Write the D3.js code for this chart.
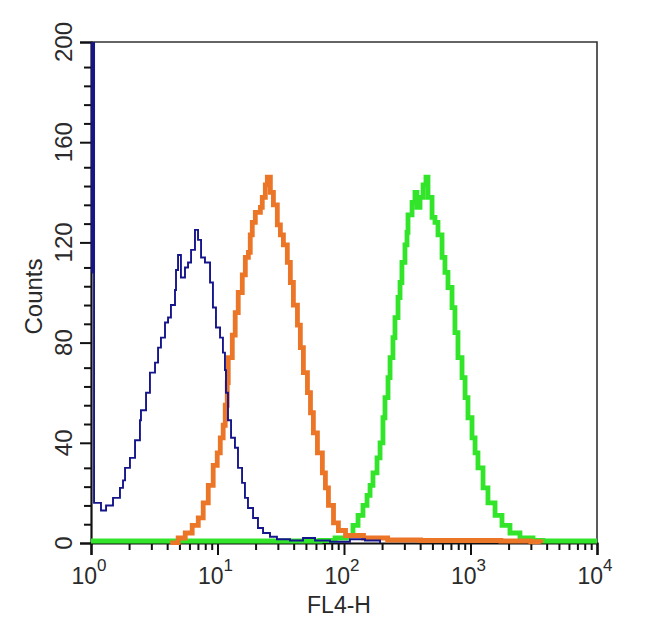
<!DOCTYPE html>
<html>
<head>
<meta charset="utf-8">
<script src="https://cdn.jsdelivr.net/npm/d3@7"></script>
<style>
  html, body { margin: 0; padding: 0; background: #fff; }
  svg { display: block; }
  text { font-family: "Liberation Sans", Arial, Helvetica, sans-serif; fill: #2a2a2a; }
</style>
</head>
<body>
<svg id="chart" width="650" height="626"></svg>
<script>
// ---- Data (x stored as log10(FL4-H), y as counts) ----
const xAxisTitle = "FL4-H";
const yAxisTitle = "Counts";
const xMajorTicks = [1, 10, 100, 1000, 10000];
const xTickExponents = ["0", "1", "2", "3", "4"];
const yMajorTicks = [0, 40, 80, 120, 160, 200];

const blueLogFL4 = [0, 0.016, 0.024, 0.079, 0.119, 0.174, 0.229, 0.253, 0.269, 0.308, 0.348, 0.387, 0.395, 0.435, 0.466, 0.506, 0.53, 0.553, 0.585, 0.609, 0.632, 0.664, 0.672, 0.688, 0.711, 0.743, 0.767, 0.791, 0.822, 0.846, 0.87, 0.901, 0.941, 0.964, 0.988, 1.02, 1.043, 1.059, 1.067, 1.083, 1.107, 1.138, 1.162, 1.194, 1.217, 1.241, 1.281, 1.32, 1.36, 1.415, 1.47, 1.573, 1.676, 1.771, 1.889, 2.047, 2.166, 2.285];
const blueCounts = [230, 108, 16, 13, 15, 18, 22, 25, 30, 34, 41, 49, 53, 60, 68, 72, 78, 82, 88, 90, 95, 101, 109, 115, 106, 110, 112, 117, 125, 121, 114, 112, 104, 94, 86, 82, 76, 69, 60, 49, 42, 38, 30, 24, 18, 14, 10, 6, 4, 2.5, 1.5, 1, 2, 1, 0.5, 1.5, 1, 0];

const orangeLogFL4 = [0.626, 0.689, 0.745, 0.8, 0.848, 0.887, 0.927, 0.966, 0.998, 1.022, 1.045, 1.061, 1.077, 1.085, 1.117, 1.14, 1.164, 1.196, 1.22, 1.244, 1.259, 1.275, 1.299, 1.339, 1.354, 1.378, 1.394, 1.418, 1.442, 1.473, 1.497, 1.521, 1.552, 1.576, 1.6, 1.632, 1.655, 1.679, 1.711, 1.735, 1.758, 1.79, 1.829, 1.853, 1.877, 1.917, 1.956, 2.012, 2.075, 2.154, 2.345, 2.606, 2.923, 3.24, 3.477, 3.556];
const orangeCounts = [0, 2, 4, 7, 10, 16, 23, 31, 36, 42, 47, 55, 64, 74, 83, 92, 100, 107, 114, 116, 123, 128, 132, 134, 138, 143, 146, 140, 135, 127, 123, 119, 112, 104, 95, 87, 78, 68, 60, 52, 44, 36, 28, 22, 15, 8, 5, 3, 3, 2, 1.2, 1, 1, 0.8, 0.5, 0];

const greenLogFL4 = [0, 1.81, 1.929, 2.024, 2.071, 2.111, 2.15, 2.182, 2.206, 2.229, 2.261, 2.285, 2.308, 2.324, 2.348, 2.364, 2.387, 2.403, 2.427, 2.443, 2.458, 2.482, 2.498, 2.506, 2.538, 2.561, 2.577, 2.601, 2.625, 2.648, 2.664, 2.696, 2.719, 2.743, 2.775, 2.798, 2.822, 2.854, 2.877, 2.901, 2.933, 2.957, 2.98, 3.012, 3.036, 3.059, 3.099, 3.138, 3.194, 3.249, 3.312, 3.391, 3.494, 3.573, 4.0];
const greenCounts = [0.8, 1, 2, 3, 7, 11, 15, 19, 23, 28, 34, 40, 50, 58, 66, 74, 82, 90, 98, 104, 112, 119, 124, 131, 136, 140, 134, 138, 143, 146, 138, 130, 128, 123, 114, 108, 102, 94, 84, 74, 66, 58, 50, 42, 36, 30, 22, 16, 11, 7, 4, 2, 1, 0.8, 0.8];

// ---- Layout ----
const svg = d3.select("#chart");
const W = 650, H = 626;
const plot = { left: 91, right: 597, top: 42, bottom: 543 };

svg.append("rect").attr("width", W).attr("height", H).attr("fill", "#fff");

const x = d3.scaleLog().domain([1, 10000]).range([plot.left, plot.right]);
const y = d3.scaleLinear().domain([0, 200]).range([plot.bottom, plot.top]);

// minor ticks
const xMinorTicks = [];
for (let e = 0; e < 4; e++) for (let m = 2; m <= 9; m++) xMinorTicks.push(m * Math.pow(10, e));
const yMinorTicks = [];
yMajorTicks.slice(0, -1).forEach(v => [7.5, 15, 22.5, 30].forEach(o => yMinorTicks.push(v + o)));

// frame (top & right)
svg.append("path")
  .attr("d", `M${plot.left},${plot.top}H${plot.right}V${plot.bottom}`)
  .attr("fill", "none").attr("stroke", "#333").attr("stroke-width", 1.6);

// x axis
const gx = svg.append("g").attr("transform", `translate(0,${plot.bottom})`);
gx.call(d3.axisBottom(x).tickValues(xMinorTicks).tickSize(7).tickFormat(""));
gx.selectAll(".tick line").attr("stroke", "#111").attr("stroke-width", 2);
gx.select(".domain").remove();
const gxMaj = svg.append("g").attr("transform", `translate(0,${plot.bottom})`);
gxMaj.call(d3.axisBottom(x).tickValues(xMajorTicks).tickSize(12).tickFormat(""));
gxMaj.select(".domain").attr("stroke", "#111").attr("stroke-width", 2.2);
gxMaj.selectAll(".tick line").attr("stroke", "#111").attr("stroke-width", 2);

// x tick labels with superscripts
xMajorTicks.forEach((v, i) => {
  const t = svg.append("text")
    .attr("x", x(v) - 2).attr("y", 584)
    .attr("text-anchor", "middle")
    .style("font-size", "23px");
  t.append("tspan").text("10");
  t.append("tspan").attr("dy", -13).style("font-size", "17px").text(xTickExponents[i]);
});

// y axis
const gy = svg.append("g").attr("transform", `translate(${plot.left},0)`);
gy.call(d3.axisLeft(y).tickValues(yMinorTicks).tickSize(7).tickFormat(""));
gy.select(".domain").remove();
gy.selectAll(".tick line").attr("stroke", "#111").attr("stroke-width", 2);
const gyMaj = svg.append("g").attr("transform", `translate(${plot.left},0)`);
gyMaj.call(d3.axisLeft(y).tickValues(yMajorTicks).tickSize(11).tickFormat(""));
gyMaj.select(".domain").attr("stroke", "#111").attr("stroke-width", 2.2);
gyMaj.selectAll(".tick line").attr("stroke", "#111").attr("stroke-width", 2);

yMajorTicks.forEach(v => {
  svg.append("text")
    .attr("transform", `translate(72,${y(v)}) rotate(-90)`)
    .attr("text-anchor", "middle")
    .style("font-size", "24px")
    .text(v);
});

// axis titles
svg.append("text")
  .attr("x", 339).attr("y", 613)
  .attr("text-anchor", "middle")
  .style("font-size", "23px")
  .text(xAxisTitle);
svg.append("text")
  .attr("transform", `translate(42,${(plot.top + plot.bottom) / 2 + 4}) rotate(-90)`)
  .attr("text-anchor", "middle")
  .style("font-size", "24px")
  .text(yAxisTitle);

// clip
svg.append("clipPath").attr("id", "clip")
  .append("rect").attr("x", plot.left - 3).attr("y", plot.top)
  .attr("width", plot.right - plot.left + 3).attr("height", plot.bottom - plot.top + 2);

const line = d3.line()
  .x(d => x(Math.pow(10, d[0])))
  .y(d => y(d[1]))
  .curve(d3.curveStepAfter);

const series = [
  { logx: greenLogFL4, counts: greenCounts, color: "#32e52a", width: 4.8 },
  { logx: orangeLogFL4, counts: orangeCounts, color: "#ec7628", width: 4.8 },
  { logx: blueLogFL4, counts: blueCounts, color: "#16168c", width: 1.9 }
];

const gs = svg.append("g").attr("clip-path", "url(#clip)");
series.forEach(s => {
  const pts = s.logx.map((v, i) => [v, s.counts[i]]);
  gs.append("path")
    .attr("d", line(pts))
    .attr("fill", "none")
    .attr("stroke", s.color)
    .attr("stroke-width", s.width)
    .attr("stroke-linejoin", "miter");
});

// blue heavy segment along left edge
gs.append("path")
  .attr("d", line([[0, 230], [0.016, 108]]))
  .attr("fill", "none").attr("stroke", "#16168c").attr("stroke-width", 4);
</script>
</body>
</html>
